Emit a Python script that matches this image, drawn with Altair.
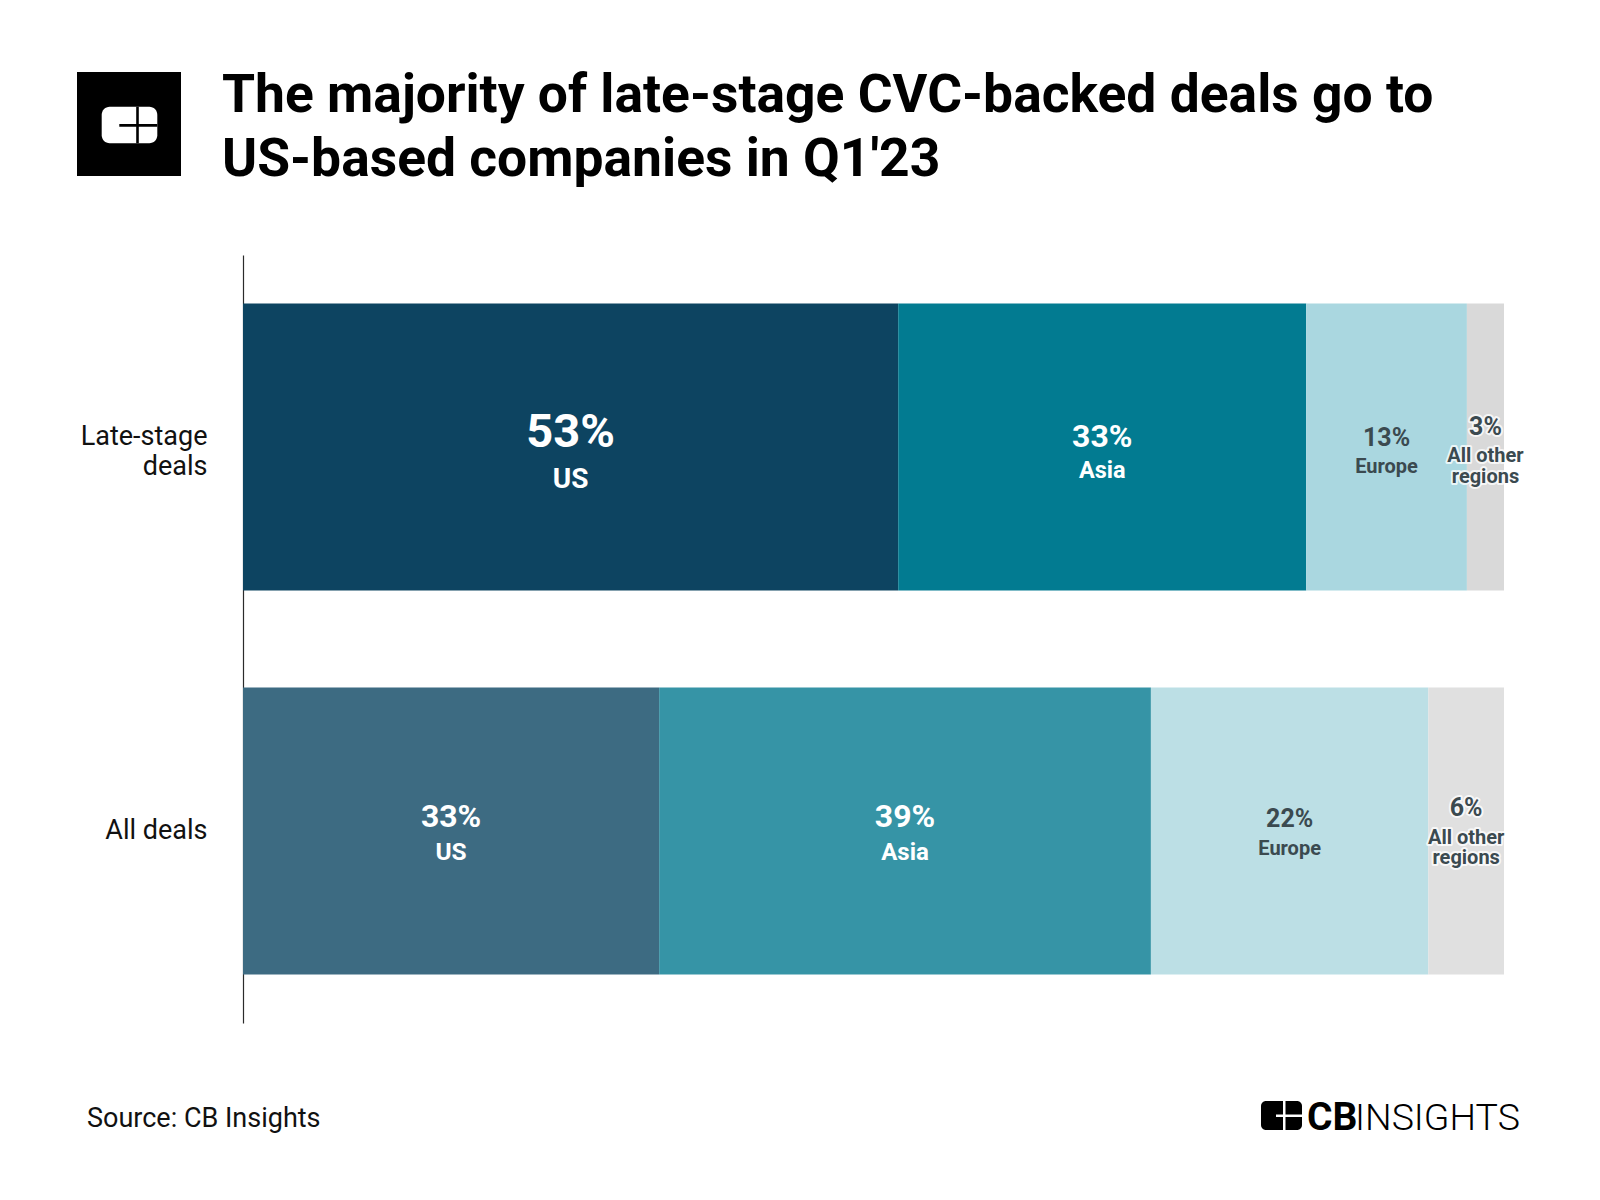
import altair as alt
import pandas as pd

# ---------------- data ----------------
GROUPS = ["Late-stage deals", "All deals"]
REGIONS = ["US", "Asia", "Europe", "All other regions"]
LATE_STAGE = [53, 33, 13, 3]
ALL_DEALS = [33, 39, 22, 6]
REGION_LINES = {
    "US": ["US"],
    "Asia": ["Asia"],
    "Europe": ["Europe"],
    "All other regions": ["All other", "regions"],
}
TITLE_LINES = ["The majority of late-stage CVC-backed deals go to",
               "US-based companies in Q1'23"]
SOURCE = "Source: CB Insights"

rows = []
for g, vals in zip(GROUPS, [LATE_STAGE, ALL_DEALS]):
    for i, (r, v) in enumerate(zip(REGIONS, vals)):
        lines = REGION_LINES[r]
        rows.append(dict(group=g, region=r, value=v, order=i, key=f"{g}|{r}",
                         pct=f"{v}%", line1=lines[0],
                         line2=lines[1] if len(lines) > 1 else ""))
df = pd.DataFrame(rows)

# ---------------- styles ----------------
KEYS = [f"{g}|{r}" for g in GROUPS for r in REGIONS]
BAR_COLORS = ["#0d4461", "#027b91", "#aad7e0", "#d9d9d9",
              "#3d6b82", "#3694a6", "#bcdfe5", "#e0e0e0"]
DARK = "#3b4a50"
# key -> (pct size, pct dy, name size, [name dy per line], color, halo)
LABEL_STYLE = {
    "Late-stage deals|US": (47, -14, 28, [33], "white", False),
    "Late-stage deals|Asia": (32, -10, 23.5, [24.5], "white", False),
    "Late-stage deals|Europe": (25, -9, 20, [20.5], DARK, False),
    "Late-stage deals|All other regions": (25, -20, 20, [9.5, 30], DARK, True),
    "All deals|US": (32, -14.5, 24.5, [21.5], "white", False),
    "All deals|Asia": (32, -14.5, 24, [21.5], "white", False),
    "All deals|Europe": (25, -12.5, 20, [17.5], DARK, False),
    "All deals|All other regions": (25, -23.5, 20, [6.5, 26.5], DARK, True),
}
FONT = "Roboto"

xscale = alt.Scale(domain=[0, 1], nice=False, zero=False)
yscale = alt.Scale(domain=GROUPS, paddingInner=0.253, paddingOuter=0.126)
yaxis = alt.Axis(title=None, ticks=False, domainColor="#2b2b2b", domainWidth=1.2,
                 labelFont=FONT, labelFontSize=27, labelColor="#111111",
                 labelPadding=36, labelLineHeight=30, labelBaseline="middle",
                 labelOffset={"condition": {"test": "datum.value == 'Late-stage deals'",
                                            "value": -10},
                              "value": 0},
                 labelExpr="datum.label == 'Late-stage deals' ? ['Late-stage', 'deals'] : datum.label")
yenc = alt.Y("group:N", scale=yscale, sort=GROUPS, axis=yaxis)

base = (alt.Chart(df)
        .transform_stack(stack="value", groupby=["group"],
                         sort=[alt.SortField("order", order="ascending")],
                         as_=["v0", "v1"], offset="normalize")
        .transform_calculate(mid="(datum.v0 + datum.v1) / 2"))

bars = base.mark_bar().encode(
    x=alt.X("v0:Q", scale=xscale, axis=None),
    x2="v1:Q",
    y=yenc,
    color=alt.Color("key:N", scale=alt.Scale(domain=KEYS, range=BAR_COLORS), legend=None),
)

layers = [bars]


def text_layer(key, field, size, dy, color, halo=False):
    kw = dict(font=FONT, fontWeight="bold", fontSize=size, dy=dy,
              align="center", baseline="middle")
    if halo:
        kw.update(stroke="white", strokeWidth=4, strokeOpacity=0.75,
                  strokeJoin="round", color="white")
    else:
        kw.update(color=color)
    return (base.transform_filter(alt.datum.key == key)
            .mark_text(**kw)
            .encode(x=alt.X("mid:Q", scale=xscale, axis=None), y=yenc,
                    text=alt.Text(f"{field}:N")))


for key, (psize, pdy, nsize, ndys, col, halo) in LABEL_STYLE.items():
    fields = ["line1", "line2"][:len(ndys)]
    if halo:
        layers.append(text_layer(key, "pct", psize, pdy, col, True))
        for f, d in zip(fields, ndys):
            layers.append(text_layer(key, f, nsize, d, col, True))
    layers.append(text_layer(key, "pct", psize, pdy, col))
    for f, d in zip(fields, ndys):
        layers.append(text_layer(key, f, nsize, d, col))

# ---------------- decorations (header logo, title, footer) ----------------
one = alt.Data(values=[{}])


def box(x, x2, y, y2, color, radius=0):
    kw = dict(color=color)
    if radius:
        kw["cornerRadius"] = radius
    return alt.Chart(one).mark_rect(**kw).encode(
        x=alt.value(x), x2=alt.value(x2), y=alt.value(y), y2=alt.value(y2))


def label(text, x, y, size, weight="normal", color="#000000"):
    kw = dict(text=text, font=FONT, fontSize=size, fontWeight=weight, color=color,
              align="left", baseline="alphabetic")
    return alt.Chart(one).mark_text(**kw).encode(x=alt.value(x), y=alt.value(y))


deco = [
    # header logo
    box(-166, -62, -183, -79, "#000000"),
    box(-141.3, -85.7, -148.3, -111.7, "#ffffff", 8),
    box(-123.7, -85.7, -130.9, -128.2, "#000000"),
    box(-106.8, -104.2, -148.3, -111.7, "#000000"),
    # title
    label(TITLE_LINES[0], -21, -143, 53.4, "bold"),
    label(TITLE_LINES[1], -21, -79, 53.4, "bold"),
    # source
    label(SOURCE, -156, 872, 27, "normal", "#111111"),
    # footer logo
    box(1018, 1059, 846, 875, "#000000", 5),
    box(1040, 1042.5, 846, 875, "#ffffff"),
    box(1033, 1059, 859.5, 862, "#ffffff"),
    label("CB", 1064, 875, 39, "bold"),
    label("INSIGHTS", 1112, 875, 37.5, 300),
]

chart = (alt.layer(*layers, *deco)
         .properties(width=1261, height=768,
                     autosize=alt.AutoSizeParams(type="none"),
                     padding={"left": 235, "top": 247, "right": 88, "bottom": 169},
                     background="white")
         .configure_view(stroke=None))

chart.save("out.html", embed_options={"renderer": "svg", "actions": False})
